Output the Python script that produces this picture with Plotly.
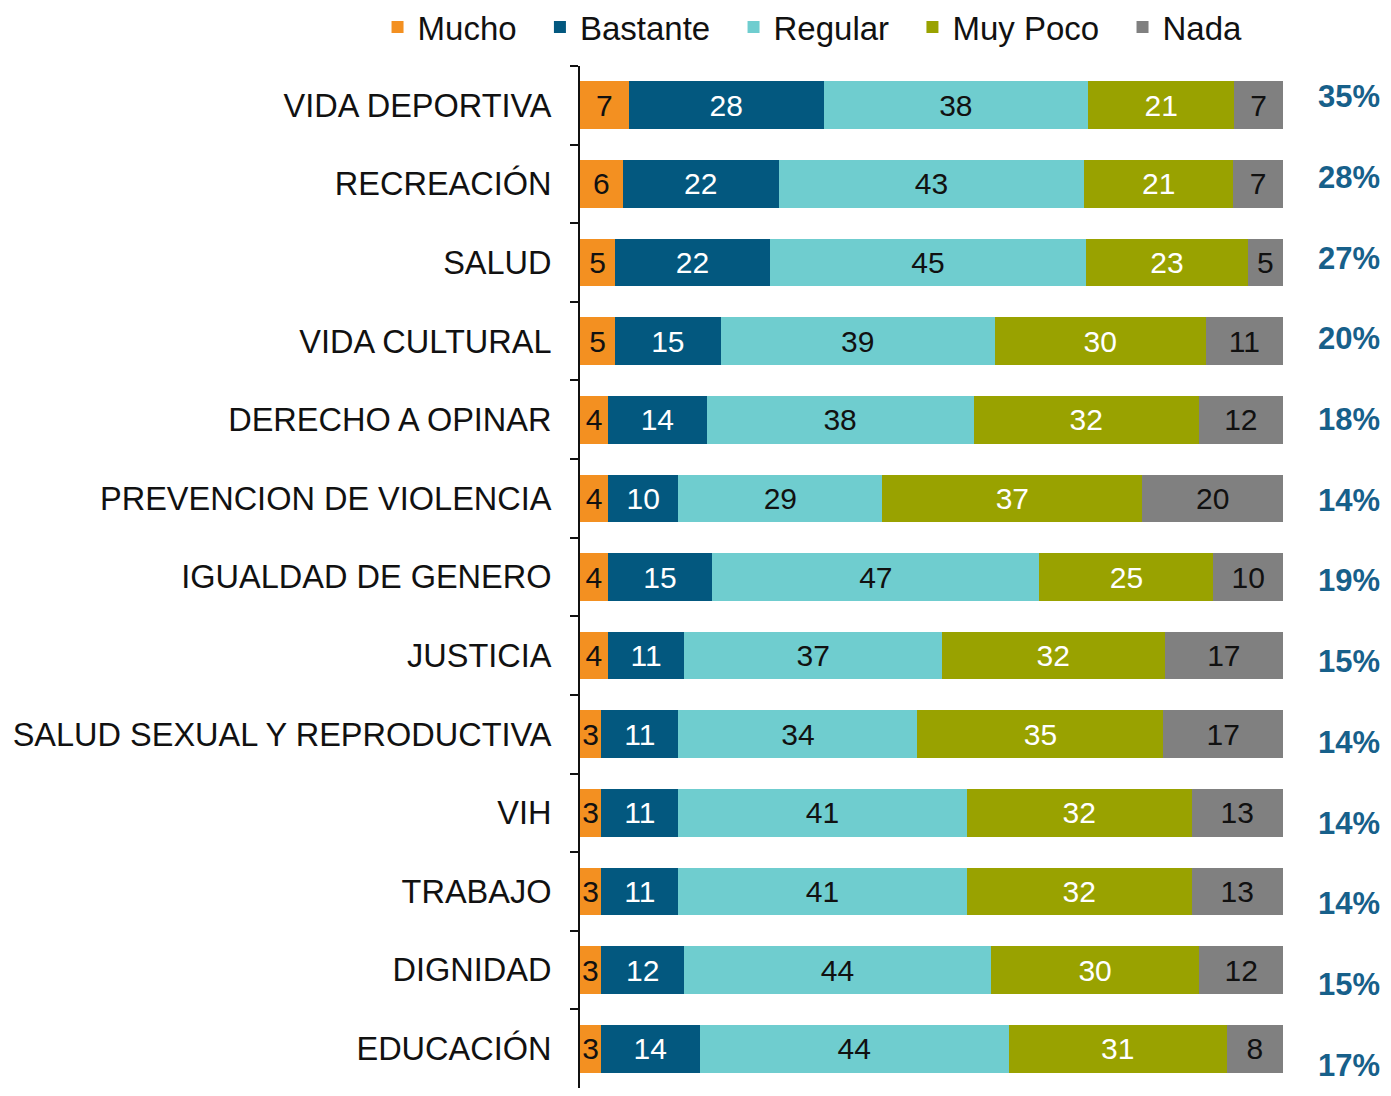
import plotly.graph_objects as go

categories = ["VIDA DEPORTIVA", "RECREACIÓN", "SALUD", "VIDA CULTURAL", "DERECHO A OPINAR",
              "PREVENCION DE VIOLENCIA", "IGUALDAD DE GENERO", "JUSTICIA",
              "SALUD SEXUAL Y REPRODUCTIVA", "VIH", "TRABAJO", "DIGNIDAD", "EDUCACIÓN"]
mucho = [7, 6, 5, 5, 4, 4, 4, 4, 3, 3, 3, 3, 3]
bastante = [28, 22, 22, 15, 14, 10, 15, 11, 11, 11, 11, 12, 14]
regular = [38, 43, 45, 39, 38, 29, 47, 37, 34, 41, 41, 44, 44]
muy_poco = [21, 21, 23, 30, 32, 37, 25, 32, 35, 32, 32, 30, 31]
nada = [7, 7, 5, 11, 12, 20, 10, 17, 17, 13, 13, 12, 8]
top_two = ["35%", "28%", "27%", "20%", "18%", "14%", "19%", "15%", "14%", "14%", "14%", "15%", "17%"]
series_names = ["Mucho", "Bastante", "Regular", "Muy Poco", "Nada"]

series = [
    (series_names[0], mucho, "#F39021", "#111111"),
    (series_names[1], bastante, "#03587F", "#FFFFFF"),
    (series_names[2], regular, "#6FCDCF", "#111111"),
    (series_names[3], muy_poco, "#99A200", "#FFFFFF"),
    (series_names[4], nada, "#808080", "#111111"),
]

FONT = "Liberation Sans, Arial, sans-serif"
PAD = "\u00a0\u00a0"
fig = go.Figure()
for name, vals, color, tcolor in series:
    fig.add_trace(go.Bar(
        y=categories, x=vals, name=name + PAD, orientation="h",
        marker=dict(color=color, line=dict(width=0)),
        text=[str(v) for v in vals], textposition="inside",
        insidetextanchor="middle", textangle=0, constraintext="none",
        textfont=dict(color=tcolor, size=30, family=FONT),
        hoverinfo="skip",
    ))

# invisible helper trace so the secondary y axis (percent column) exists
fig.add_trace(go.Scatter(
    x=[None] * len(top_two), y=list(range(len(top_two))), yaxis="y2",
    mode="markers", showlegend=False, hoverinfo="skip",
))

# percentages on the right, placed on the secondary y axis with its own spacing
for i, label in enumerate(top_two):
    fig.add_annotation(
        x=1.1408, xref="paper", y=i, yref="y2", text=label, showarrow=False,
        xanchor="right", yanchor="middle",
        font=dict(color="#17608A", size=31, family=FONT, weight="bold"),
    )

fig.update_layout(
    width=1375, height=1080,
    barmode="stack", barnorm="percent", bargap=0.394,
    margin=dict(l=572, r=100, t=58, b=0, autoexpand=False),
    paper_bgcolor="white", plot_bgcolor="white",
    font=dict(family=FONT, size=30, color="#111111"),
    uniformtext=dict(mode="show", minsize=29),
    showlegend=True,
    legend=dict(orientation="h", x=-0.288, xanchor="left", y=1.038, yanchor="middle",
                font=dict(size=33, family=FONT, color="#111111"), itemsizing="constant",
                traceorder="normal", itemwidth=30, bgcolor="rgba(0,0,0,0)"),
    xaxis=dict(range=[0, 100], visible=False, fixedrange=True),
    yaxis=dict(autorange="reversed", showline=True, linecolor="#111111", linewidth=2,
               ticks="outside", ticklen=8, tickwidth=2, tickcolor="#111111",
               tickson="boundaries", showgrid=False, ticklabelstandoff=20,
               tickfont=dict(size=32.5, family=FONT, color="#111111")),
    yaxis2=dict(overlaying="y", range=[12.285, -0.384], visible=False, showgrid=False),
)

fig.write_html("out.html")
